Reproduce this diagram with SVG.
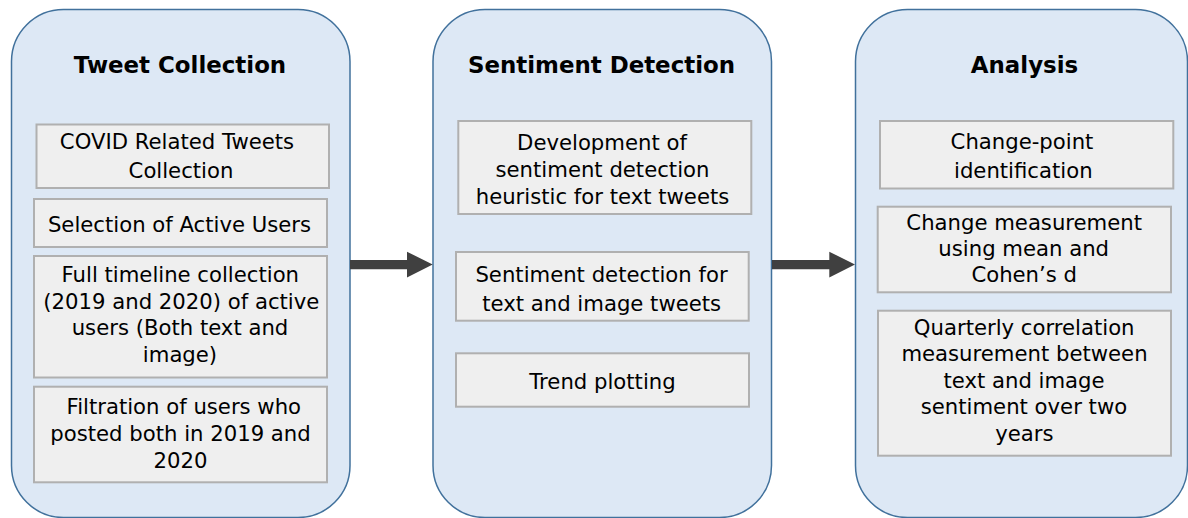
<svg xmlns="http://www.w3.org/2000/svg" width="1188" height="518" viewBox="0 0 1188 518">
<style>
.panel{fill:#dde8f5;stroke:#41719c;stroke-width:1.5}
.item{fill:#efefef;stroke:#b0b0b0;stroke-width:2}
.title{font-family:"DejaVu Sans",Verdana,sans-serif;font-weight:bold;font-size:22.9px;fill:#000;text-anchor:middle}
.t{font-family:"DejaVu Sans",Verdana,sans-serif;font-size:21.2px;fill:#000;text-anchor:middle}
.arrow{fill:#404040}
</style>
<rect width="1188" height="518" fill="#ffffff"/>
<g id="panel-tweet-collection">
<rect class="panel" x="11.5" y="9.5" width="338.5" height="508" rx="52" ry="52"/>
<text class="title" x="180" y="73.3">Tweet Collection</text>
</g>
<g id="panel-sentiment-detection">
<rect class="panel" x="433" y="9.5" width="338.5" height="508" rx="52" ry="52"/>
<text class="title" x="601.5" y="73.3">Sentiment Detection</text>
</g>
<g id="panel-analysis">
<rect class="panel" x="855.5" y="9.5" width="332" height="508" rx="52" ry="52"/>
<text class="title" x="1024.5" y="73.3">Analysis</text>
</g>
<g id="covid-tweets">
<rect class="item" x="36.5" y="124.5" width="292.5" height="63.5"/>
<text class="t" x="177" y="149">COVID Related Tweets</text>
<text class="t" x="181" y="178.3">Collection</text>
</g>
<g id="active-users">
<rect class="item" x="34" y="199" width="293" height="48"/>
<text class="t" x="179.5" y="232.3">Selection of Active Users</text>
</g>
<g id="full-timeline">
<rect class="item" x="34" y="256" width="293" height="121.5"/>
<text class="t" x="180.3" y="282.3">Full timeline collection</text>
<text class="t" x="181.3" y="308.5">(2019 and 2020) of active</text>
<text class="t" x="180" y="335">users (Both text and</text>
<text class="t" x="180" y="361.5">image)</text>
</g>
<g id="filtration">
<rect class="item" x="34" y="386.7" width="293" height="95.6"/>
<text class="t" x="183.8" y="414">Filtration of users who</text>
<text class="t" x="180.5" y="440.7">posted both in 2019 and</text>
<text class="t" x="180.5" y="468">2020</text>
</g>
<g id="heuristic">
<rect class="item" x="458.3" y="121" width="293" height="93"/>
<text class="t" x="602" y="149.5">Development of</text>
<text class="t" x="602.5" y="177">sentiment detection</text>
<text class="t" x="602.5" y="204">heuristic for text tweets</text>
</g>
<g id="text-image-sentiment">
<rect class="item" x="456" y="252" width="292.7" height="68.7"/>
<text class="t" x="601.5" y="282.3">Sentiment detection for</text>
<text class="t" x="601.7" y="311">text and image tweets</text>
</g>
<g id="trend">
<rect class="item" x="456" y="353.3" width="293" height="53.4"/>
<text class="t" x="602.5" y="389.3">Trend plotting</text>
</g>
<g id="change-point">
<rect class="item" x="880" y="121" width="293.3" height="67.5"/>
<text class="t" x="1022" y="149">Change-point</text>
<text class="t" x="1023.3" y="178.3">identification</text>
</g>
<g id="change-measurement">
<rect class="item" x="877.7" y="206.7" width="293.3" height="85.6"/>
<text class="t" x="1024.2" y="230">Change measurement</text>
<text class="t" x="1023.7" y="255.5">using mean and</text>
<text class="t" x="1024.2" y="281.7">Cohen’s d</text>
</g>
<g id="quarterly-correlation">
<rect class="item" x="878" y="310.7" width="293" height="145"/>
<text class="t" x="1024.2" y="335">Quarterly correlation</text>
<text class="t" x="1024.5" y="361">measurement between</text>
<text class="t" x="1024" y="387.7">text and image</text>
<text class="t" x="1024" y="414">sentiment over two</text>
<text class="t" x="1024.3" y="441">years</text>
</g>
<g id="connectors">
<path class="arrow" d="M350,260 H407 V251.7 L432.7,264.5 L407,277.5 V269.2 H350 Z"/>
<path class="arrow" d="M772,260 H829.3 V251.7 L855,264.5 L829.3,277.5 V269.2 H772 Z"/>
</g>
</svg>
